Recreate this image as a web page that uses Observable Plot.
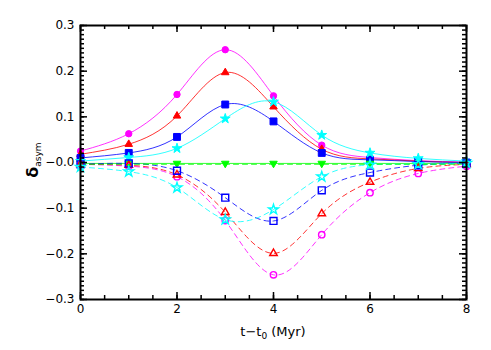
<!DOCTYPE html>
<html><head><meta charset="utf-8">
<script src="https://cdn.jsdelivr.net/npm/d3@7"></script>
<script src="https://cdn.jsdelivr.net/npm/@observablehq/plot@0.6"></script>
<style>body{margin:0;background:#fff}</style>
</head><body><div id="chart"></div>
<script>
// Time since t0 (Myr)
const t = [0, 1, 2, 3, 4, 5, 6, 7, 8];

// Solid lines, filled markers
const magentaSolid = [0.025, 0.063, 0.149, 0.247, 0.146, 0.038, 0.011, 0.004, 0.001];
const redSolid     = [0.018, 0.040, 0.102, 0.197, 0.122, 0.029, 0.008, 0.003, 0.000];
const blueSolid    = [0.010, 0.021, 0.056, 0.127, 0.090, 0.021, 0.006, 0.002, 0.000];
const cyanSolid    = [0.003, 0.011, 0.031, 0.096, 0.133, 0.060, 0.021, 0.009, 0.003];
const greenSolid   = [-0.002, -0.002, -0.002, -0.002, -0.002, -0.002, -0.002, -0.002, -0.002];

// Dashed lines, open markers
const magentaDashed = [-0.004, -0.008, -0.031, -0.127, -0.246, -0.158, -0.066, -0.024, -0.008];
const redDashed     = [-0.004, -0.006, -0.027, -0.109, -0.199, -0.112, -0.043, -0.013, -0.004];
const blueDashed    = [-0.004, -0.002, -0.018, -0.077, -0.128, -0.061, -0.022, -0.006, -0.002];
const cyanDashed    = [-0.010, -0.020, -0.055, -0.125, -0.103, -0.031, -0.005, -0.004, -0.001];
const greenDashed   = [-0.004, -0.004, -0.004, -0.004, -0.004, -0.004, -0.004, -0.004, -0.004];

const colors  = ["#ff00ff", "#ff0000", "#0000ff", "#00ffff", "#00ff00"];
const symbols = ["circle", "triangle", "square", "star", "triangle"];
const rotates = [0, 0, 0, 0, 180];
const radii   = [3.2, 2.8, 3.9, 3.1, 2.8];
const solidSeries  = [magentaSolid, redSolid, blueSolid, cyanSolid, greenSolid];
const dashedSeries = [magentaDashed, redDashed, blueDashed, cyanDashed, greenDashed];

// Axis ticks and labels
const xMajor = [0, 2, 4, 6, 8];
const xMinor = d3.range(0, 8.01, 0.5);
const yMajor = [-0.3, -0.2, -0.1, 0, 0.1, 0.2, 0.3];
const yTickLabels = ["\u22120.3", "\u22120.2", "\u22120.1", "\u22120.0", "0.1", "0.2", "0.3"];
const yMinor = d3.range(-30, 31).map(d => d / 100);

const W = 491, H = 350, ML = 80, MR = 25, MT = 25, MB = 51;
const FW = W - ML - MR, FH = H - MT - MB;

const rowsOf = arr => t.map((x, i) => ({t: x, v: arr[i]}));

const seriesMarks = [];
solidSeries.forEach((arr, k) => {
  seriesMarks.push(Plot.line(rowsOf(arr), {x: "t", y: "v", stroke: colors[k], strokeWidth: 1, strokeOpacity: 0.8, curve: "natural"}));
});
dashedSeries.forEach((arr, k) => {
  seriesMarks.push(Plot.line(rowsOf(arr), {x: "t", y: "v", stroke: colors[k], strokeWidth: 1, strokeOpacity: 0.8, curve: "natural", strokeDasharray: "5,4"}));
});
solidSeries.forEach((arr, k) => {
  seriesMarks.push(Plot.dot(rowsOf(arr), {x: "t", y: "v", symbol: symbols[k], r: radii[k], rotate: rotates[k], fill: colors[k], stroke: colors[k], strokeWidth: 1}));
});
dashedSeries.slice(0, 4).forEach((arr, k) => {
  seriesMarks.push(Plot.dot(rowsOf(arr), {x: "t", y: "v", symbol: symbols[k], r: radii[k], rotate: rotates[k], fill: "none", stroke: colors[k], strokeWidth: 1.4}));
});

// inward tick marks (insets leave only a short stub at each edge)
const tickOpts = {stroke: "black", strokeWidth: 1.5};
const tickMarks = [
  Plot.tickX(xMajor, {x: d => d, insetTop: FH - 7, ...tickOpts}),
  Plot.tickX(xMinor, {x: d => d, insetTop: FH - 4, ...tickOpts}),
  Plot.tickX(xMajor, {x: d => d, insetBottom: FH - 7, ...tickOpts}),
  Plot.tickX(xMinor, {x: d => d, insetBottom: FH - 4, ...tickOpts}),
  Plot.tickY(yMajor, {y: d => d, insetRight: FW - 7, ...tickOpts}),
  Plot.tickY(yMinor, {y: d => d, insetRight: FW - 4, ...tickOpts}),
  Plot.tickY(yMajor, {y: d => d, insetLeft: FW - 7, ...tickOpts}),
  Plot.tickY(yMinor, {y: d => d, insetLeft: FW - 4, ...tickOpts})
];

const plot = Plot.plot({
  width: W,
  height: H,
  marginLeft: ML,
  marginRight: MR,
  marginTop: MT,
  marginBottom: MB,
  style: "font-family: 'DejaVu Sans'; font-size: 12px; color: black; background: white;",
  x: {domain: [0, 8]},
  y: {domain: [-0.3, 0.3]},
  marks: [
    ...seriesMarks,
    Plot.axisX({ticks: xMajor, tickSize: 0, tickPadding: 5, tickFormat: d => String(d), label: null}),
    Plot.axisY({ticks: yMajor, tickSize: 0, tickPadding: 6, tickFormat: (d, i) => yTickLabels[i], label: null}),
    ...tickMarks,
    Plot.frame({stroke: "black", strokeWidth: 2})
  ]
});

const svg = d3.select(plot);
// x-axis title
const xt = svg.append("text")
  .attr("x", ML + FW / 2).attr("y", 336)
  .attr("text-anchor", "middle")
  .attr("font-size", 13).attr("fill", "black");
xt.append("tspan").text("t\u2212t");
xt.append("tspan").attr("font-size", 9).attr("dy", 3).text("0");
xt.append("tspan").attr("dy", -3).text(" (Myr)");
// y-axis title
const yt = svg.append("text")
  .attr("transform", "translate(38,160) rotate(-90)")
  .attr("text-anchor", "middle")
  .attr("fill", "black");
yt.append("tspan").attr("font-size", 16).attr("font-weight", "bold").text("\u03b4");
yt.append("tspan").attr("font-size", 9).attr("dy", 3).text("asym");

document.getElementById("chart").appendChild(plot);
</script></body></html>
